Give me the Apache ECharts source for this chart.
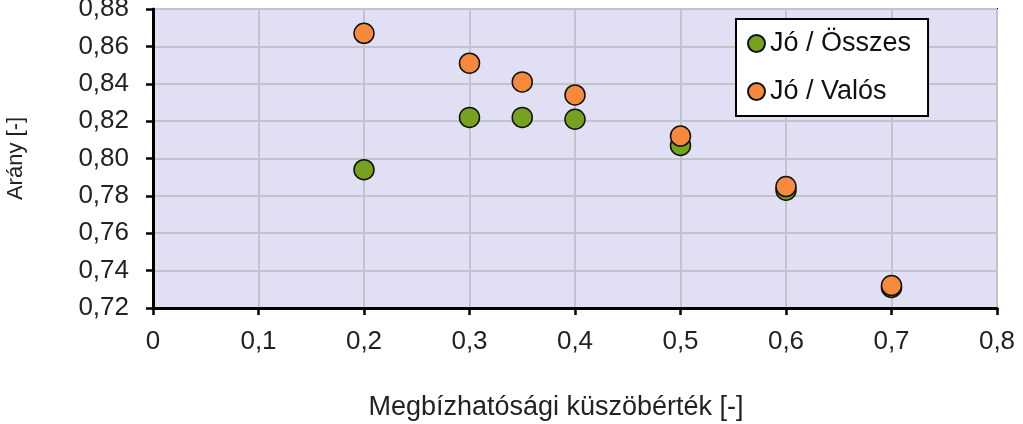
<!DOCTYPE html>
<html><head><meta charset="utf-8">
<script src="https://cdn.jsdelivr.net/npm/echarts@6/dist/echarts.min.js"></script>
<style>html,body{margin:0;padding:0;background:#fff}#c{width:1023px;height:424px}</style>
</head><body><div id="c"></div>
<script>
const thresholds = [0.2, 0.3, 0.35, 0.4, 0.5, 0.6, 0.7];
const joOsszes = [0.794, 0.822, 0.822, 0.821, 0.807, 0.783, 0.731];
const joValos = [0.867, 0.851, 0.841, 0.834, 0.812, 0.785, 0.732];
const seriesNames = ['Jó / Összes', 'Jó / Valós'];
const xTitle = 'Megbízhatósági küszöbérték [-]';
const yTitle = 'Arány [-]';

const font = 'Liberation Sans, Arial, sans-serif';
const chart = echarts.init(document.getElementById('c'));
const comma = s => String(s).replace('.', ',');
chart.setOption({
  animation: false,
  backgroundColor: '#fff',
  grid: { left: 153, right: 26, top: 9, bottom: 116, outerBoundsMode: 'none', containLabel: false, show: true, backgroundColor: '#e0dff4', borderColor: '#000', borderWidth: 2 },
  xAxis: {
    type: 'value', min: 0, max: 0.8, interval: 0.1,
    name: xTitle, nameLocation: 'middle', nameGap: 86,
    nameTextStyle: { fontFamily: font, fontSize: 27, color: '#222', padding: [0, 38, 0, 0] },
    axisLine: { show: true, lineStyle: { color: '#000', width: 3 } },
    axisTick: { show: true, length: 7, lineStyle: { color: '#000', width: 2.5 } },
    axisLabel: { fontFamily: font, fontSize: 26, color: '#222', margin: 21, formatter: v => comma(Math.round(v * 10) / 10) },
    splitLine: { show: true, lineStyle: { color: '#c4c3cc', width: 2 } }
  },
  yAxis: {
    type: 'value', min: 0.72, max: 0.88, interval: 0.02,
    name: yTitle, nameLocation: 'middle', nameGap: 126, nameRotate: 90,
    nameTextStyle: { fontFamily: font, fontSize: 22, color: '#222' },
    axisLine: { show: true, lineStyle: { color: '#000', width: 3 } },
    axisTick: { show: true, length: 7, lineStyle: { color: '#000', width: 2.5 } },
    axisLabel: { fontFamily: font, fontSize: 26, color: '#222', margin: 24, formatter: v => comma(v.toFixed(2)) },
    splitLine: { show: true, lineStyle: { color: '#c4c3cc', width: 2 } }
  },
  legend: {
    orient: 'vertical', left: 736, top: 19,
    backgroundColor: '#fff', borderColor: '#000', borderWidth: 2,
    padding: [11, 17, 11, 11], itemGap: 21, itemWidth: 17, itemHeight: 17,
    icon: 'circle',
    textStyle: { fontFamily: font, fontSize: 27, color: '#111' },
    data: seriesNames
  },
  series: [
    { name: seriesNames[0], type: 'scatter', symbolSize: 20, data: thresholds.map((x, i) => [x, joOsszes[i]]),
      itemStyle: { color: '#77a21f', borderColor: '#111', borderWidth: 1.5, opacity: 1 } },
    { name: seriesNames[1], type: 'scatter', symbolSize: 20, data: thresholds.map((x, i) => [x, joValos[i]]),
      itemStyle: { color: '#f7893c', borderColor: '#111', borderWidth: 1.5, opacity: 1 } }
  ]
});
</script></body></html>
